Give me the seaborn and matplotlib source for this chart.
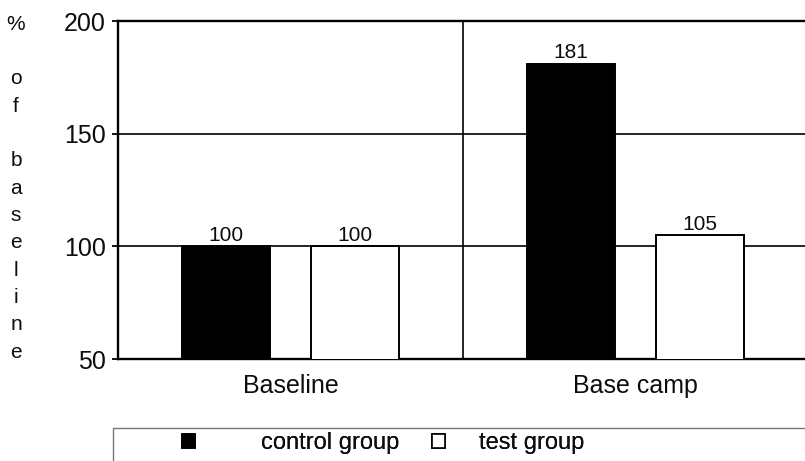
import matplotlib
matplotlib.use("Agg")
import matplotlib.pyplot as plt
from matplotlib.patches import Rectangle, Patch
import pandas as pd
import seaborn as sns

# Data: percent of baseline per phase and group
phases = ["Baseline", "Base camp"]
groups = ["control group", "test group"]
control_values = [100, 181]
test_values = [100, 105]
y_ticks = [50, 100, 150, 200]

df = pd.DataFrame({
    "phase": phases * 2,
    "group": [groups[0]] * len(phases) + [groups[1]] * len(phases),
    "value": control_values + test_values,
})

sns.set_theme(style="white")
plt.rcParams["font.family"] = ["Liberation Sans", "DejaVu Sans"]

W, H = 805, 461
TXT = "#0d0d0d"
fig = plt.figure(figsize=(W / 100, H / 100), dpi=100)
ax = fig.add_axes([118 / W, 1 - 359 / H, 690 / W, (359 - 21) / H])

sns.barplot(
    data=df, x="phase", y="value", hue="group", order=phases, hue_order=groups,
    palette={groups[0]: "black", groups[1]: "white"},
    edgecolor="black", linewidth=1.4, width=0.75, gap=0.32,
    legend=False, ax=ax, zorder=3,
)

for cont in ax.containers:
    ax.bar_label(cont, fmt="%d", padding=1, fontsize=15, color=TXT)

ax.set_ylim(50, 200)
ax.set_xlim(-0.5, 1.5)
ax.set_yticks(y_ticks)
ax.set_yticklabels([str(t) for t in y_ticks], fontsize=18, color=TXT)
ax.tick_params(axis="y", left=True, length=4, width=1.3, color="black", pad=5)
ax.tick_params(axis="x", bottom=False, length=0, pad=11, labelsize=18, labelcolor=TXT)
ax.set_xlabel("")
ax.set_ylabel("")

# reference lines and phase divider
for yv in (100, 150):
    ax.axhline(yv, color="black", lw=1.2, zorder=1)
ax.axvline(0.5, color="black", lw=1.2, zorder=1)

for side in ("left", "bottom", "top"):
    ax.spines[side].set_visible(True)
    ax.spines[side].set_color("black")
    ax.spines[side].set_linewidth(1.7)
ax.spines["right"].set_visible(False)

# stacked vertical axis caption
letters = ["%", "", "o", "f", "", "b", "a", "s", "e", "l", "i", "n", "e"]
y0, y1 = 24, 352
step = (y1 - y0) / (len(letters) - 1)
for i, ch in enumerate(letters):
    if ch:
        fig.text(16 / W, 1 - (y0 + i * step) / H, ch, ha="center", va="center",
                 fontsize=15, color=TXT)

# legend box
fig.patches.append(Rectangle((113 / W, -0.05), 1.0, 1 - 428 / H + 0.05,
                             transform=fig.transFigure, facecolor="white",
                             edgecolor="#777777", lw=1.0))
legend_specs = [
    (groups[0], "black", 182, 2.8),
    (groups[1], "white", 432, 1.45),
]
for label, fc, xpix, textpad in legend_specs:
    leg = fig.legend([Patch(facecolor=fc, edgecolor="black", lw=1.2)], [label],
                     loc="center left", bbox_to_anchor=(xpix / W, 1 - 443 / H),
                     frameon=False, fontsize=17, labelcolor=TXT,
                     handlelength=0.55, handleheight=0.55,
                     handletextpad=textpad, borderpad=0, borderaxespad=0)
    fig.add_artist(leg)

fig.savefig("out.png", dpi=100)
